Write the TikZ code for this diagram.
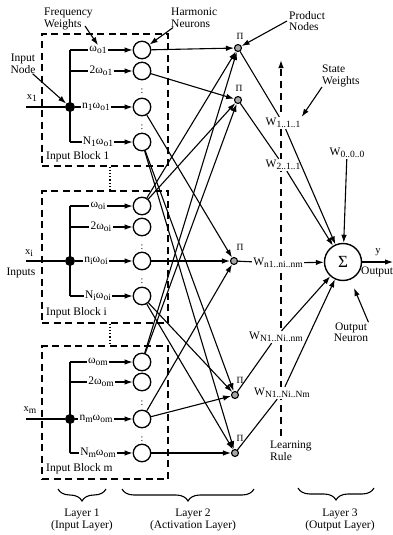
\documentclass[tikz,border=0pt]{standalone}
\usepackage{fontspec}
\setmainfont{Liberation Serif}
\usetikzlibrary{arrows.meta,decorations.pathreplacing,backgrounds}
\newcommand{\lowsub}[1]{\raisebox{-1.8pt}{\fontsize{9.5}{9.5}\selectfont #1}}
\begin{document}
\begin{tikzpicture}[x=1pt,y=-1pt,
  font=\fontsize{11.5}{12}\selectfont,
  hn/.style={circle,draw,line width=1.3pt,minimum size=17.5pt,inner sep=0pt},
  pn/.style={circle,draw,line width=1.1pt,minimum size=7pt,inner sep=0pt,fill=gray!70},
  dotnode/.style={circle,fill,minimum size=10pt,inner sep=0pt},
  flab/.style={inner sep=1pt,font=\fontsize{11.5}{11.5}\selectfont},
  wlab/.style={fill=white,inner sep=1.2pt,font=\fontsize{11.5}{11.5}\selectfont},
  ann/.style={align=left,inner sep=0pt,font=\fontsize{11.5}{11.5}\selectfont},
  pilab/.style={inner sep=0pt,font=\fontsize{9.5}{9.5}\selectfont},
  conn/.style={line width=1.1pt,-{Latex[length=8pt,width=5.5pt]}},
  plain/.style={line width=1.1pt},
  blockbox/.style={draw,dash pattern=on 7pt off 4.5pt,line width=1.3pt,minimum width=126pt,inner sep=0pt},
  brc/.style={decorate,decoration={brace,mirror,amplitude=12pt,aspect=0.5},line width=1.1pt},
]
\useasboundingbox (0,0) rectangle (393,535);

% input blocks
\node[blockbox,minimum height=132pt] (B1) at (105,100) {};
\node[blockbox,minimum height=132pt] (Bi) at (105,257) {};
\node[blockbox,minimum height=133pt] (Bm) at (105,412.5) {};
\draw[dotted,line width=1.2pt] ([xshift=5pt]B1.south) -- ([xshift=5pt]Bi.north);
\draw[dotted,line width=1.2pt] ([xshift=5pt]Bi.south) -- ([xshift=5pt]Bm.north);
\node[ann,anchor=west] at (46,157) {Input Block 1};
\node[ann,anchor=west] at (46,313) {Input Block i};
\node[ann,anchor=west] at (46,469) {Input Block m};

% harmonic neurons
\foreach \n/\y in {1a/50,1b/71,1c/107,1d/142,ia/206,ib/227,ic/261,id/296,ma/362,mb/382,mc/419,md/453}
  \node[hn] (H\n) at (142,\y) {};
\foreach \y in {91,127,247,281,403,439}
  \node[inner sep=0pt,font=\fontsize{10}{10}\selectfont] at (142,\y) {:};

% input nodes
\node[dotnode] (D1) at (70,107) {};
\node[dotnode] (Di) at (70,261) {};
\node[dotnode] (Dm) at (70,419) {};
\coordinate (X1) at (26,107);
\coordinate (Xi) at (26,261);
\coordinate (Xm) at (26,419);
\draw[plain] (X1) -- (D1);
\draw[plain] (Xi) -- (Di);
\draw[plain] (Xm) -- (Dm);
\node[inner sep=0pt,font=\fontsize{10.5}{10.5}\selectfont] at (32,98) {x\lowsub{1}};
\node[inner sep=0pt,font=\fontsize{10.5}{10.5}\selectfont] at (29,253) {x\lowsub{i}};
\node[inner sep=0pt,font=\fontsize{10.5}{10.5}\selectfont] at (30,410) {x\lowsub{m}};
\node[ann] at (21,273) {Inputs};

% buses
\draw[plain] (H1a -| D1) -- (H1d -| D1);
\draw[plain] (Hia -| Di) -- (Hid -| Di);
\draw[plain] (Hma -| Dm) -- (Hmd -| Dm);

% frequency labels
\node[flab] (L1a) at (98,50) {ω\lowsub{o1}};
\node[flab] (L1b) at (101,71) {2ω\lowsub{o1}};
\node[flab] (L1c) at (96,107) {n\lowsub{1}ω\lowsub{o1}};
\node[flab] (L1d) at (98,142) {N\lowsub{1}ω\lowsub{o1}};
\node[flab] (Lia) at (98,206) {ω\lowsub{oi}};
\node[flab] (Lib) at (101,227) {2ω\lowsub{oi}};
\node[flab] (Lic) at (96,261) {n\lowsub{i}ω\lowsub{oi}};
\node[flab] (Lid) at (98,296) {N\lowsub{i}ω\lowsub{oi}};
\node[flab] (Lma) at (98,362) {ω\lowsub{om}};
\node[flab] (Lmb) at (101,382) {2ω\lowsub{om}};
\node[flab] (Lmc) at (96,419) {n\lowsub{m}ω\lowsub{om}};
\node[flab] (Lmd) at (98,453) {N\lowsub{m}ω\lowsub{om}};
\foreach \b in {1,i,m}{
  \draw[plain] (H\b a -| D\b) -- (L\b a);
  \draw[plain] (H\b b -| D\b) -- (L\b b);
  \draw[plain] (D\b) -- (L\b c);
  \draw[plain] (H\b d -| D\b) -- (L\b d);
  \foreach \r in {a,b,c,d}
    \draw[conn] (L\b\r) -- (H\b\r);
}

% product nodes
\node[pn] (P1) at (238,48) {};
\node[pn] (P2) at (238,100) {};
\node[pn] (P3) at (234,261) {};
\node[pn] (P4) at (235,395) {};
\node[pn] (P5) at (235,453) {};
\node[pilab] at (240,36) {Π};
\node[pilab] at (239,88) {Π};
\node[pilab] at (240,247) {Π};
\node[pilab] at (240,380) {Π};
\node[pilab] at (240,438) {Π};

\draw[conn] (H1a) -- (P1);
\draw[conn] (Hia) -- (P1);
\draw[conn] (Hma) -- (P1);
\draw[conn] (H1b) -- (P2);
\draw[conn] (Hia) -- (P2);
\draw[conn] (Hma) -- (P2);
\draw[conn] (H1c) -- (P3);
\draw[conn] (Hic) -- (P3);
\draw[conn] (Hmc) -- (P3);
\draw[conn] (H1d) -- (P4);
\draw[conn] (Hid) -- (P4);
\draw[conn] (Hmc) -- (P4);
\draw[conn] (H1d) -- (P5);
\draw[conn] (Hid) -- (P5);
\draw[conn] (Hmd) -- (P5);

% output neuron
\node[circle,draw,line width=1.4pt,minimum size=37pt,inner sep=0pt,font=\fontsize{17}{17}\selectfont] (S) at (343,262) {Σ};
\coordinate (Yout) at (393,262);
\draw[conn] (S) -- (Yout);
\node[inner sep=0pt,font=\fontsize{10.5}{10.5}\selectfont] at (378,252) {y};
\node[ann,anchor=west] at (361,272) {Output};

% state weights
\node[wlab] (W1) at (283,123) {W\lowsub{1..1..1}};
\node[wlab] (W2) at (283,165) {W\lowsub{2..1..1}};
\node[wlab] (W0) at (347,153) {W\lowsub{0..0..0}};
\node[wlab] (Wn) at (278,263) {W\lowsub{n1..ni..nm}};
\node[wlab] (WNn) at (276,337) {W\lowsub{N1..Ni..nm}};
\node[wlab] (WNN) at (282,393) {W\lowsub{N1..Ni..Nm}};
\draw[plain] (P1) -- (W1);
\draw[plain] (P2) -- (W2);
\draw[plain] (P3) -- (Wn);
\draw[plain] (P4) -- (WNn);
\draw[plain] (P5) -- (WNN);
\draw[conn] (W1) -- (S);
\draw[conn] (W2) -- (S);
\draw[conn] (W0) -- (S);
\draw[conn] (Wn) -- (S);
\draw[conn] (WNn) -- (S);
\draw[conn] (WNN) -- (S);

% learning rule
\node[ann,anchor=north west] (LR) at (270,441) {Learning\\Rule};
\coordinate (LRbot) at (281,436);
\coordinate (LRtop) at (281,60);
\begin{pgfonlayer}{background}
\draw[line width=1.3pt,dash pattern=on 7pt off 5pt,-{Latex[length=8pt,width=5.5pt]}] (LRbot) -- (LRtop);
\end{pgfonlayer}

% annotations
\node[ann,align=center] (inode) at (23,64) {Input\\Node};
\draw[conn] ([xshift=-3pt]inode.south east) -- (D1);
\node[ann,anchor=north west] (fw) at (44,8) {Frequency\\Weights};
\coordinate (fwt) at (85,26);
\draw[conn] (fwt) -- (L1a.north);
\node[ann,anchor=north west] (hnl) at (171,8) {Harmonic\\Neurons};
\draw[conn] ([xshift=2pt]hnl.south west) -- (H1a);
\node[ann,anchor=north west] (pnl) at (289,11) {Product\\Nodes};
\draw[conn] ([xshift=-2pt]pnl.west) -- (P1);
\node[ann,anchor=north west] (swl) at (322,65) {State\\Weights};
\draw[conn] (swl.south west) -- (W1.north east);
\node[ann,align=center] (onl) at (351,332) {Output\\Neuron};
\draw[conn,shorten >=9pt] (onl.north east) -- (S);

% layer braces
\coordinate (b1a) at (58,489);
\coordinate (b1b) at (106,489);
\coordinate (b2a) at (122,489);
\coordinate (b2b) at (254,489);
\coordinate (b3a) at (298,488);
\coordinate (b3b) at (374,488);
\draw[brc] (b1a) -- (b1b);
\draw[brc] (b2a) -- (b2b);
\draw[brc] (b3a) -- (b3b);
\node[ann,align=center] at (82,520) {Layer 1\\(Input Layer)};
\node[ann,align=center] at (193,520) {Layer 2\\(Activation Layer)};
\node[ann,align=center] at (340,520) {Layer 3\\(Output Layer)};
\end{tikzpicture}
\end{document}
